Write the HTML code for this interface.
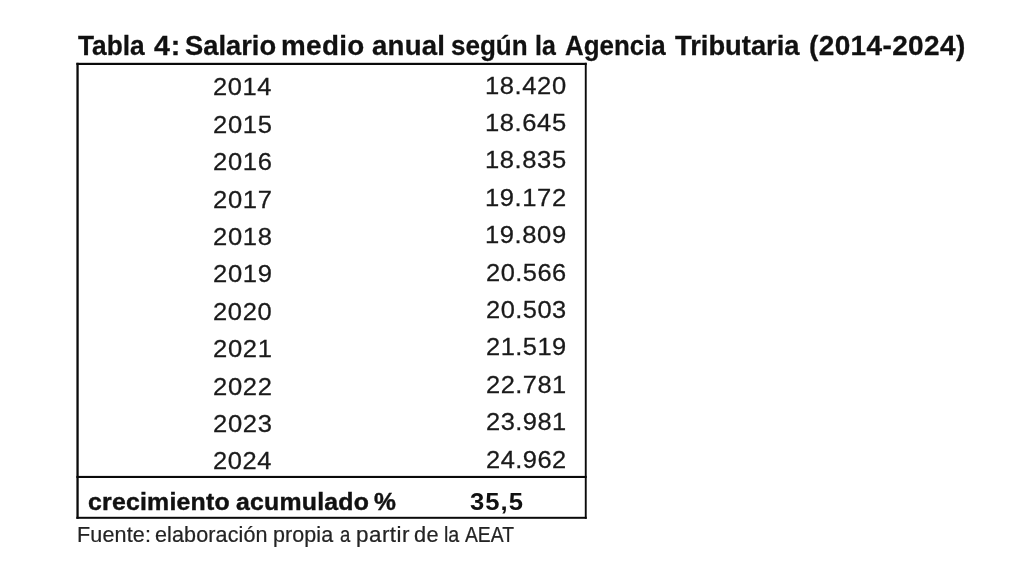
<!DOCTYPE html>
<html lang="es">
<head>
<meta charset="utf-8">
<title>Tabla 4: Salario medio anual según la Agencia Tributaria (2014-2024)</title>
<style>
html,body{margin:0;padding:0;background:#fff;}
body{width:1024px;height:576px;position:relative;overflow:hidden;font-family:"Liberation Sans",sans-serif;color:#1a1a1a;}
.t{position:absolute;white-space:nowrap;line-height:1;transform-origin:0 0;}
#box{position:absolute;left:0;top:0;}
.ti{top:31.6px;font-size:27.3px;font-weight:bold;color:#111;-webkit-text-stroke:0.28px #111;}
.y,.v{font-size:24.6px;-webkit-text-stroke:0.28px #1a1a1a;}
.gl{top:490px;font-size:24.5px;font-weight:bold;color:#111;-webkit-text-stroke:0.42px #111;}
.gv{top:489.5px;font-size:24px;font-weight:bold;color:#111;}
.src{top:524.8px;font-size:21.3px;color:#242424;-webkit-text-stroke:0.23px #242424;}
</style>
</head>
<body>
<svg id="box" width="1024" height="576" viewBox="0 0 1024 576">
<rect x="76.4" y="62.8" width="2.3" height="456" fill="#0a0a0a"/>
<rect x="76.4" y="62.8" width="510.3" height="2.2" fill="#0a0a0a"/>
<rect x="584.8" y="62.8" width="1.9" height="456" fill="#0a0a0a"/>
<rect x="76.4" y="516.8" width="510.3" height="2.0" fill="#0a0a0a"/>
<rect x="76.4" y="475.9" width="510.3" height="2.1" fill="#0a0a0a"/>
</svg>
<h1 style="margin:0;font-size:inherit;font-weight:inherit"><span class="t ti" style="left:77.77px;transform:scaleX(0.9629);">Tabla</span> <span class="t ti" style="left:153.64px;transform:scaleX(1.0454);letter-spacing:0.93px;">4:</span> <span class="t ti" style="left:184.89px;transform:scaleX(1.0007);letter-spacing:0.01px;">Salario</span> <span class="t ti" style="left:281.36px;transform:scaleX(1.0185);letter-spacing:0.35px;">medio</span> <span class="t ti" style="left:371.59px;transform:scaleX(1.0121);letter-spacing:0.203px;">anual</span> <span class="t ti" style="left:450.86px;transform:scaleX(0.9534);">según</span> <span class="t ti" style="left:535.38px;transform:scaleX(0.9116);">la</span> <span class="t ti" style="left:564.95px;transform:scaleX(0.9487);">Agencia</span> <span class="t ti" style="left:674.66px;transform:scaleX(1.0007);letter-spacing:0.009px;">Tributaria</span> <span class="t ti" style="left:809.04px;transform:scaleX(1.0254);letter-spacing:0.362px;">(2014-2024)</span></h1>
<div class="row"><span class="t y" style="left:212.55px;transform:scaleX(1.0351);letter-spacing:0.596px;top:75.40px;">2014</span> <span class="t v" style="left:485.12px;transform:scaleX(1.0403);letter-spacing:0.557px;top:73.60px;">18.420</span></div>
<div class="row"><span class="t y" style="left:212.55px;transform:scaleX(1.0386);letter-spacing:0.65px;top:112.80px;">2015</span> <span class="t v" style="left:485.12px;transform:scaleX(1.0403);letter-spacing:0.557px;top:111.00px;">18.645</span></div>
<div class="row"><span class="t y" style="left:212.55px;transform:scaleX(1.0392);letter-spacing:0.659px;top:150.20px;">2016</span> <span class="t v" style="left:485.12px;transform:scaleX(1.0403);letter-spacing:0.557px;top:148.40px;">18.835</span></div>
<div class="row"><span class="t y" style="left:212.55px;transform:scaleX(1.0403);letter-spacing:0.675px;top:187.60px;">2017</span> <span class="t v" style="left:485.12px;transform:scaleX(1.0403);letter-spacing:0.557px;top:185.80px;">19.172</span></div>
<div class="row"><span class="t y" style="left:212.55px;transform:scaleX(1.0391);letter-spacing:0.656px;top:225.00px;">2018</span> <span class="t v" style="left:485.12px;transform:scaleX(1.0403);letter-spacing:0.557px;top:223.20px;">19.809</span></div>
<div class="row"><span class="t y" style="left:212.55px;transform:scaleX(1.0399);letter-spacing:0.669px;top:262.40px;">2019</span> <span class="t v" style="left:486.01px;transform:scaleX(1.034);letter-spacing:0.479px;top:260.60px;">20.566</span></div>
<div class="row"><span class="t y" style="left:212.55px;transform:scaleX(1.0375);letter-spacing:0.635px;top:299.80px;">2020</span> <span class="t v" style="left:486.01px;transform:scaleX(1.034);letter-spacing:0.479px;top:298.00px;">20.503</span></div>
<div class="row"><span class="t y" style="left:212.55px;transform:scaleX(1.0398);letter-spacing:0.668px;top:337.20px;">2021</span> <span class="t v" style="left:486.01px;transform:scaleX(1.034);letter-spacing:0.479px;top:335.40px;">21.519</span></div>
<div class="row"><span class="t y" style="left:212.55px;transform:scaleX(1.0403);letter-spacing:0.675px;top:374.60px;">2022</span> <span class="t v" style="left:486.01px;transform:scaleX(1.034);letter-spacing:0.479px;top:372.80px;">22.781</span></div>
<div class="row"><span class="t y" style="left:212.55px;transform:scaleX(1.0396);letter-spacing:0.664px;top:412.00px;">2023</span> <span class="t v" style="left:486.01px;transform:scaleX(1.034);letter-spacing:0.479px;top:410.20px;">23.981</span></div>
<div class="row"><span class="t y" style="left:212.55px;transform:scaleX(1.0351);letter-spacing:0.596px;top:449.40px;">2024</span> <span class="t v" style="left:486.01px;transform:scaleX(1.034);letter-spacing:0.479px;top:447.60px;">24.962</span></div>
<div class="row"><span class="t gl" style="left:88.38px;transform:scaleX(1.015);letter-spacing:0.201px;">crecimiento</span> <span class="t gl" style="left:235.99px;transform:scaleX(1.0138);letter-spacing:0.215px;">acumulado</span> <span class="t gl" style="left:374.4px;transform:scaleX(1.0047);">%</span> <span class="t gv" style="left:469.63px;transform:scaleX(1.0682);letter-spacing:0.956px;">35,5</span></div>
<p style="margin:0"><span class="t src" style="left:76.78px;transform:scaleX(1.0118);letter-spacing:0.131px;">Fuente:</span> <span class="t src" style="left:154.89px;transform:scaleX(1.0112);letter-spacing:0.118px;">elaboración</span> <span class="t src" style="left:273.15px;transform:scaleX(1.0082);letter-spacing:0.093px;">propia</span> <span class="t src" style="left:339.83px;transform:scaleX(0.8679);">a</span> <span class="t src" style="left:355.89px;transform:scaleX(1.0519);letter-spacing:0.46px;">partir</span> <span class="t src" style="left:414.48px;transform:scaleX(1.0204);letter-spacing:0.432px;">de</span> <span class="t src" style="left:443.93px;transform:scaleX(0.9221);">la</span> <span class="t src" style="left:465.45px;transform:scaleX(0.9063);">AEAT</span></p>
</body>
</html>
